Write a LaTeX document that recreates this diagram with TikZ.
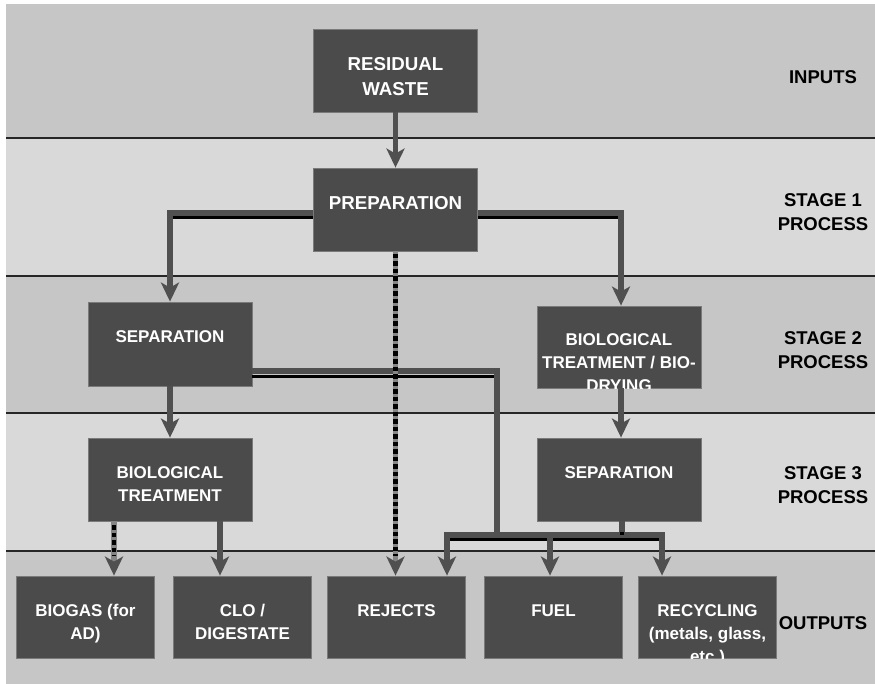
\documentclass[tikz,border=0pt]{standalone}
\usepackage{fontspec}
\setmainfont{Liberation Sans}
\usetikzlibrary{arrows.meta,calc}
\definecolor{bandD}{HTML}{C6C6C6}
\definecolor{bandL}{HTML}{D9D9D9}
\definecolor{boxc}{HTML}{4B4B4B}
\definecolor{boxb}{HTML}{7A7A7A}
\definecolor{conc}{HTML}{505050}
\definecolor{dashc}{HTML}{858585}
\definecolor{sepc}{HTML}{262626}
\begin{document}
\begin{tikzpicture}[x=1pt,y=-1pt,
  pbox/.style={draw=boxb, line width=0.8pt, fill=boxc, inner sep=0pt, minimum width=164pt, minimum height=83pt},
  obox/.style={pbox, minimum width=138pt, minimum height=82pt},
  ptxt/.style={anchor=north, inner sep=0pt, align=center, text=white, font=\bfseries\fontsize{17}{23}\selectfont},
  btxt/.style={ptxt, font=\bfseries\fontsize{18.7}{25}\selectfont},
  stg/.style={anchor=north, align=center, inner sep=0pt, text=black, font=\bfseries\fontsize{18.5}{24}\selectfont},
  conn/.style={draw=conc, line width=5.5pt},
  arr/.style={conn, -{Stealth[width=18pt,length=19pt,inset=5pt,color=conc]}},
  darr/.style={arr, draw=dashc},
  blk/.style={draw=black, line width=3pt},
  dsh/.style={draw=black, line width=4.5pt, dash pattern=on 4.5pt off 3pt},
  bandline/.style={draw=sepc, line width=1.8pt}
]
\useasboundingbox (0,0) rectangle (875,684);
\fill[white] (0,0) rectangle (875,684);
% bands
\fill[bandD] (6,4) rectangle (875,138);
\fill[bandL] (6,138) rectangle (875,276);
\fill[bandD] (6,276) rectangle (875,413);
\fill[bandL] (6,413) rectangle (875,551);
\fill[bandD] (6,551) rectangle (875,684);
\draw[bandline] (6,138) -- (875,138);
\draw[bandline] (6,276) -- (875,276);
\draw[bandline] (6,413) -- (875,413);
\draw[bandline] (6,551) -- (875,551);

% stage labels
\node[stg] (s0) at (823,66.8) {\strut INPUTS};
\node[stg] (s1) at (823,189.8) {\strut STAGE 1\\PROCESS};
\node[stg] (s2) at (823,327.8) {\strut STAGE 2\\PROCESS};
\node[stg] (s3) at (823,462.8) {\strut STAGE 3\\PROCESS};
\node[stg] (s4) at (823,612.8) {\strut OUTPUTS};

% guide coordinates
\coordinate (kL) at (173,217.5);
\coordinate (kR) at (618,217.5);
\coordinate (busX) at (497,535);
\coordinate (kS) at (494,376);
\coordinate (busL) at (447,535);
\coordinate (busM) at (550,535);
\coordinate (busR) at (662,535);
\coordinate (busS) at (622,535);
\coordinate (xg) at (114,0);
\coordinate (xc) at (220,0);
\coordinate (dEnd) at (0,556);
\coordinate (dStartA) at (0,254);
\coordinate (dStartB) at (0,525);

% boxes
\node[pbox] (rw) at (395.5,70.5) {};
\node[pbox] (prep) at (395.5,209.5) {};
\node[pbox, minimum height=84pt] (sepl) at (170,344) {};
\node[pbox, minimum height=82pt] (biod) at (619,347) {};
\node[pbox] (biot) at (170,479.5) {};
\node[pbox] (sepr) at (619,479.5) {};
\node[obox] (biogas) at (85.5,617) {};
\node[obox] (clo) at (242.5,617) {};
\node[obox] (rej) at (396.5,617) {};
\node[obox] (fuel) at (553.5,617) {};
\node[obox] (rec) at (707.5,617) {};

% box texts
\node[btxt] (trw) at ([yshift=-24pt]rw.north) {\strut RESIDUAL\\WASTE};
\node[btxt] (tprep) at ([yshift=-24pt]prep.north) {\strut PREPARATION};
\node[ptxt] (tsepl) at ([yshift=-24.5pt]sepl.north) {\strut SEPARATION};
\begin{scope}
  \clip (biod.north west) rectangle (biod.south east);
  \node[ptxt] (tbiod) at ([yshift=-23.5pt]biod.north) {\strut BIOLOGICAL\\TREATMENT / BIO-\\DRYING};
\end{scope}
\node[ptxt] (tbiot) at ([yshift=-24.5pt]biot.north) {\strut BIOLOGICAL\\TREATMENT};
\node[ptxt] (tsepr) at ([yshift=-24.5pt]sepr.north) {\strut SEPARATION};
\node[ptxt] (tbiogas) at ([yshift=-25pt]biogas.north) {\strut BIOGAS (for\\AD)};
\node[ptxt] (tclo) at ([yshift=-25pt]clo.north) {\strut CLO /\\DIGESTATE};
\node[ptxt] (trej) at ([yshift=-25pt]rej.north) {\strut REJECTS};
\node[ptxt] (tfuel) at ([yshift=-25pt]fuel.north) {\strut FUEL};
\begin{scope}
  \clip (rec.north west) rectangle (rec.south east);
  \node[ptxt] (trec) at ([yshift=-25pt]rec.north) {\strut RECYCLING\\(metals, glass,\\etc.)};
\end{scope}

% connectors
\draw[arr] (rw.south) -- (prep.north);
\draw[arr] ([yshift=-3.5pt]prep.west) -| (sepl.north);
\draw[blk] ([yshift=-8pt]prep.west) -- (kL);
\draw[arr] ([yshift=-3.5pt]prep.east) -| ([xshift=2pt]biod.north);
\draw[blk] ([yshift=-8pt]prep.east) -- (kR);
\draw[arr] (sepl.south) -- (biot.north);
\draw[arr] ([xshift=2pt]biod.south) -- ([xshift=2pt]sepr.north);
\draw[conn] ([yshift=-27pt]sepl.east) -| (busX);
\draw[blk] ([yshift=-32pt]sepl.east) -- (kS);
\draw[conn] (busS |- sepr.south) -- (busS);
\draw[conn, line cap=rect] (busL) -- (busR);
\draw[blk] ([yshift=-4.5pt]busL) -- ([yshift=-4.5pt]busR);
\fill[black] ([xshift=-2pt,yshift=0pt]busS) rectangle ([xshift=2pt,yshift=3pt]busS);
\draw[arr] (busL) -- (busL |- rej.north);
\draw[arr] (busM) -- (busM |- fuel.north);
\draw[arr] (busR) -- (busR |- rec.north);
% dashed connectors
\draw[darr] (prep.south) -- (prep.south |- rej.north);
\draw[dsh] (prep.south |- dStartA) -- (prep.south |- dEnd);
\draw[darr] (biot.south -| xg) -- (xg |- biogas.north);
\draw[dsh] (xg |- dStartB) -- (xg |- dEnd);
\draw[arr] (biot.south -| xc) -- (xc |- clo.north);
\end{tikzpicture}
\end{document}
